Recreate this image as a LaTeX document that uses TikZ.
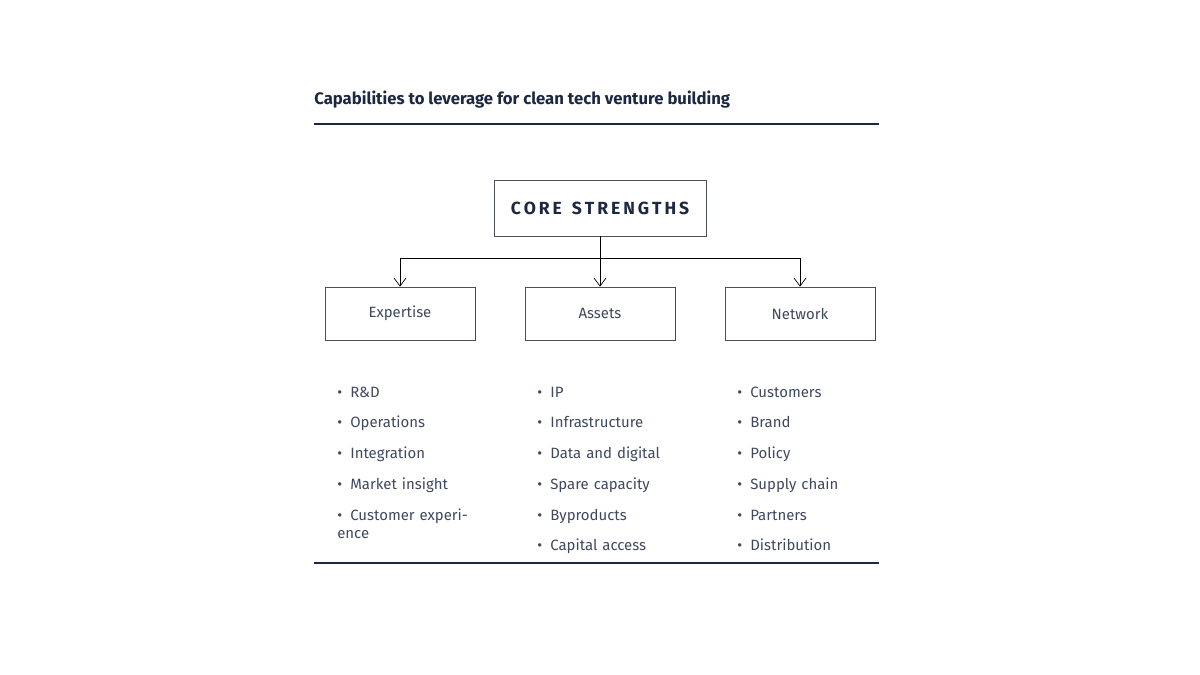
\documentclass[tikz,border=0pt]{standalone}
\usepackage{fontspec}
\setmainfont{Fira Sans}
\usepackage{xcolor}
\usetikzlibrary{positioning,arrows.meta}
\definecolor{navy}{HTML}{1C2841}
\definecolor{boxline}{HTML}{4A4F5A}
\tikzset{
    capbox/.style={rectangle, draw=boxline, thin, minimum width=3cm, minimum height=1.06cm, font=\fontsize{8.5}{10}\selectfont, text=navy!85},
    corebox/.style={rectangle, draw=boxline, thin, minimum width=4.24cm, minimum height=1.12cm, font=\bfseries\fontsize{10}{12}\selectfont, text=navy},
    line/.style={draw=black, thin, -{Straight Barb[length=1.6mm,width=2.4mm]}},
    rule/.style={draw=navy, line width=0.7pt},
    itemlist/.style={anchor=north west, align=left, text width=2.8cm, inner sep=0pt, font=\fontsize{8.5}{10.6}\selectfont, text=navy!85}
}
\newcommand{\bul}[1]{\par\hangindent=0.26cm\hangafter=1\makebox[0.26cm][l]{\textbullet}#1}
\begin{document}
\begin{tikzpicture}[x=0.02cm, y=-0.02cm]
    \useasboundingbox (0,0) rectangle (1200,675);
    % Title and rules
    \node [anchor=west, inner sep=0pt, font=\bfseries\fontsize{9.5}{11}\selectfont, text=navy] (title) at (314,100) {Capabilities to leverage for clean tech venture building};
    \coordinate (topl) at (314,124);
    \coordinate (topr) at (879,124);
    \coordinate (botl) at (314,563);
    \coordinate (botr) at (879,563);
    \path [rule] (topl) -- (topr);
    \path [rule] (botl) -- (botr);

    % Core and capability boxes
    \node [corebox] (core) at (600,208) {C\,O\,R\,E\,\ \,S\,T\,R\,E\,N\,G\,T\,H\,S};
    \node [capbox] (expertise) at (400,313.5) {Expertise};
    \node [capbox] (assets) at (600,313.5) {Assets};
    \node [capbox] (network) at (800,313.5) {Network};

    % Connections
    \coordinate (split) at (600,258);
    \draw [thin] (core.south) -- (split);
    \path [line] (split) -- (assets.north);
    \path [line] (split) -| (expertise.north);
    \path [line] (split) -| (network.north);

    % Bullet lists
    \node [itemlist] (expl) at (337,366) {\setlength{\parskip}{6.9pt}%
        \bul{R\&D}\bul{Operations}\bul{Integration}\bul{Market insight}\bul{Customer experience}};
    \node [itemlist] (assl) at (537,366) {\setlength{\parskip}{6.9pt}%
        \bul{IP}\bul{Infrastructure}\bul{Data and digital}\bul{Spare capacity}\bul{Byproducts}\bul{Capital access}};
    \node [itemlist] (netl) at (737,366) {\setlength{\parskip}{6.9pt}%
        \bul{Customers}\bul{Brand}\bul{Policy}\bul{Supply chain}\bul{Partners}\bul{Distribution}};
\end{tikzpicture}
\end{document}
